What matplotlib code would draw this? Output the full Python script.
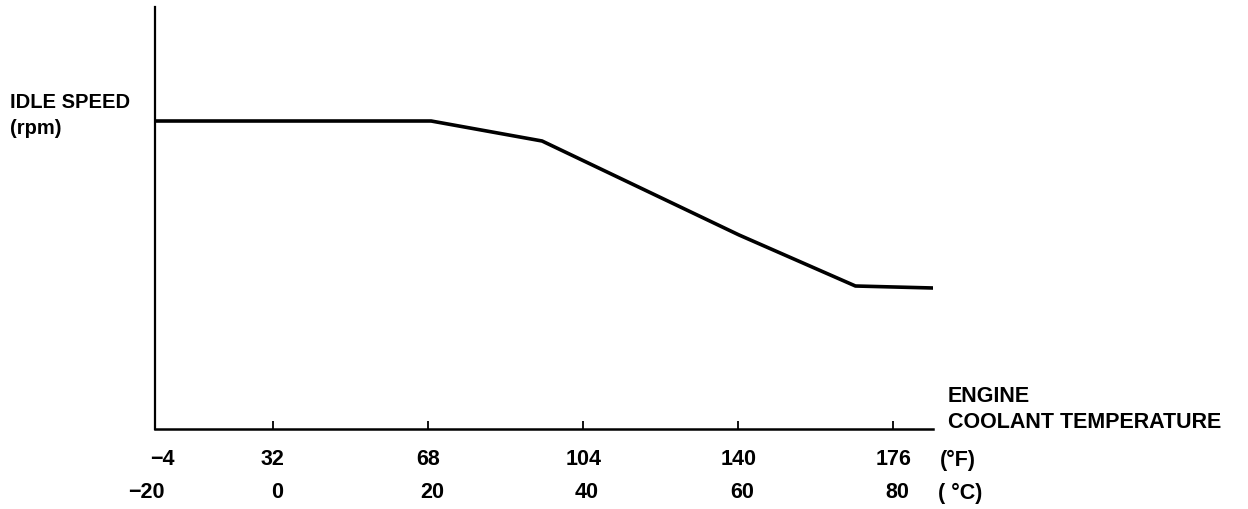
import matplotlib.pyplot as plt
import matplotlib as mpl
import matplotlib.transforms as mtransforms

mpl.rcParams.update({
    'font.family': ['Liberation Sans', 'DejaVu Sans'],
    'font.weight': 'bold',
    'font.size': 15.5,
})

# idle speed curve (relative units, no scale printed on the chart)
temp_c = [-15.2, 20.4, 34.7, 60.1, 75.1, 85.1]
idle = [308, 308, 288, 194, 143, 141]

# tick labels
tick_c = [-20, 0, 20, 40, 60, 80]
tick_f = [-4, 32, 68, 104, 140, 176]
label_c = ['\u221220', '0', '20', '40', '60', '80']
label_f = ['\u22124', '32', '68', '104', '140', '176']

fig = plt.figure(figsize=(12.48, 5.10), dpi=100)
ax = fig.add_axes([155/1248, 80/510, (933-155)/1248, (430-8)/510])

ax.plot(temp_c, idle, color='black', linewidth=2.6, solid_joinstyle='round')
ax.set_xlim(-15.2, 85.1)
ax.set_ylim(0, 422)

for s in ['top', 'right']:
    ax.spines[s].set_visible(False)
ax.spines['left'].set_linewidth(1.6)
ax.spines['bottom'].set_linewidth(1.8)

ax.set_yticks([])
ax.set_xticks(tick_c[1:])
ax.set_xticklabels([])
ax.tick_params(axis='x', direction='in', length=6, width=1.3)

trans = mtransforms.blended_transform_factory(ax.transData, fig.transFigure)
for c, lf, lc in zip(tick_c, label_f, label_c):
    if c < -15:
        xf, xc = -14.2, -16.3
    else:
        xf, xc = c, c + 0.5
    ax.text(xf, 1 - 460/510, lf, transform=trans, ha='center', va='center',
            fontweight='bold')
    ax.text(xc, 1 - 493/510, lc, transform=trans, ha='center', va='center',
            fontweight='bold')

fig.text(940/1248, 1 - 460/510, '(\u00b0F)', ha='left', va='center',
         fontweight='bold')
fig.text(938/1248, 1 - 493/510, '( \u00b0C)', ha='left', va='center',
         fontweight='bold')

fig.text(948/1248, 1 - 396/510, 'ENGINE', ha='left', va='center',
         fontweight='bold')
fig.text(948/1248, 1 - 423/510, 'COOLANT TEMPERATURE', ha='left', va='center',
         fontweight='bold')

fig.text(10/1248, 1 - 103/510, 'IDLE SPEED', ha='left', va='center',
         fontsize=14.5, fontweight='bold')
fig.text(10/1248, 1 - 128/510, '(rpm)', ha='left', va='center',
         fontsize=14.5, fontweight='bold')

fig.savefig('out.png', dpi=100)
